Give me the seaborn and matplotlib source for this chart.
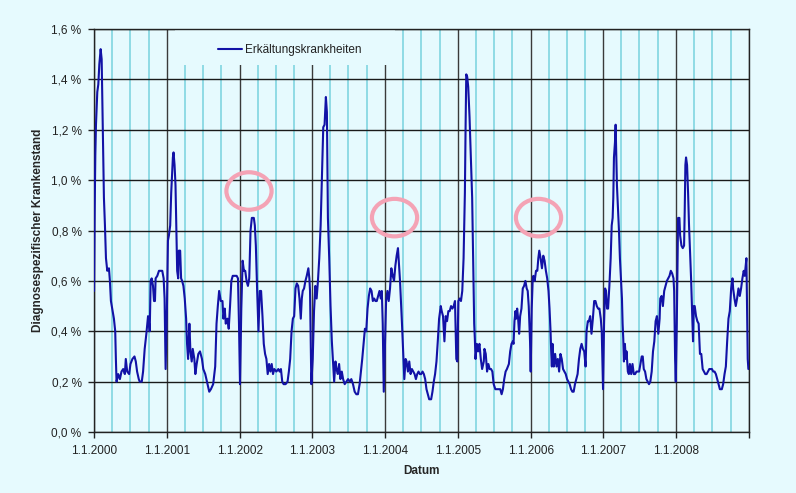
import pandas as pd
import seaborn as sns
import matplotlib.pyplot as plt
import matplotlib.dates as mdates
from matplotlib.patches import Ellipse, Rectangle
from matplotlib.ticker import FuncFormatter, MultipleLocator

# (Dezimaljahr, Krankenstand in %) je Saison
s2000 = [(2000.000, 0.56), (2000.009, 0.88), (2000.018, 1.10), (2000.027, 1.22), (2000.045, 1.35),
         (2000.059, 1.38), (2000.073, 1.46), (2000.091, 1.52), (2000.105, 1.48), (2000.118, 1.25),
         (2000.127, 1.09), (2000.136, 0.93), (2000.150, 0.82), (2000.164, 0.69), (2000.182, 0.64),
         (2000.205, 0.65), (2000.218, 0.60), (2000.232, 0.52), (2000.255, 0.48), (2000.273, 0.45),
         (2000.291, 0.40), (2000.300, 0.29), (2000.309, 0.20), (2000.332, 0.23), (2000.355, 0.21),
         (2000.377, 0.24), (2000.400, 0.25), (2000.423, 0.23), (2000.436, 0.29), (2000.455, 0.24),
         (2000.482, 0.23), (2000.500, 0.27), (2000.527, 0.29), (2000.555, 0.30), (2000.573, 0.28),
         (2000.591, 0.24), (2000.614, 0.21), (2000.627, 0.20), (2000.655, 0.20), (2000.673, 0.24),
         (2000.695, 0.33), (2000.718, 0.39), (2000.741, 0.46), (2000.755, 0.43), (2000.764, 0.40),
         (2000.777, 0.60), (2000.791, 0.61), (2000.809, 0.58), (2000.823, 0.52), (2000.836, 0.52),
         (2000.845, 0.61), (2000.868, 0.62), (2000.891, 0.64), (2000.914, 0.64), (2000.936, 0.64),
         (2000.955, 0.61), (2000.968, 0.53), (2000.982, 0.25)]
s2001 = [(2001.000, 0.49), (2001.014, 0.76), (2001.027, 0.78), (2001.045, 0.82), (2001.059, 0.95),
         (2001.082, 1.09), (2001.091, 1.11), (2001.105, 1.06), (2001.118, 0.98), (2001.127, 0.85),
         (2001.141, 0.64), (2001.155, 0.61), (2001.164, 0.72), (2001.182, 0.72), (2001.195, 0.61),
         (2001.209, 0.60), (2001.227, 0.58), (2001.245, 0.53), (2001.264, 0.45), (2001.277, 0.35),
         (2001.291, 0.29), (2001.309, 0.43), (2001.323, 0.32), (2001.341, 0.28), (2001.355, 0.33),
         (2001.377, 0.29), (2001.391, 0.23), (2001.409, 0.27), (2001.432, 0.31), (2001.455, 0.32),
         (2001.482, 0.29), (2001.500, 0.25), (2001.527, 0.23), (2001.559, 0.19), (2001.582, 0.16),
         (2001.605, 0.17), (2001.636, 0.19), (2001.664, 0.26), (2001.682, 0.43), (2001.700, 0.50),
         (2001.718, 0.56), (2001.741, 0.52), (2001.764, 0.52), (2001.777, 0.45), (2001.795, 0.49),
         (2001.809, 0.43), (2001.832, 0.45), (2001.850, 0.41), (2001.868, 0.50), (2001.886, 0.60),
         (2001.905, 0.62), (2001.932, 0.62), (2001.959, 0.62), (2001.977, 0.61), (2001.991, 0.43)]
s2002 = [(2002.005, 0.19), (2002.023, 0.49), (2002.041, 0.68), (2002.059, 0.64), (2002.077, 0.64),
         (2002.095, 0.60), (2002.114, 0.58), (2002.132, 0.61), (2002.150, 0.80), (2002.168, 0.85),
         (2002.195, 0.85), (2002.209, 0.82), (2002.223, 0.74), (2002.241, 0.56), (2002.259, 0.40),
         (2002.277, 0.56), (2002.295, 0.56), (2002.314, 0.46), (2002.332, 0.35), (2002.350, 0.31),
         (2002.368, 0.29), (2002.386, 0.23), (2002.405, 0.27), (2002.423, 0.24), (2002.441, 0.27),
         (2002.459, 0.23), (2002.477, 0.25), (2002.505, 0.24), (2002.532, 0.25), (2002.550, 0.24),
         (2002.568, 0.25), (2002.586, 0.20), (2002.605, 0.19), (2002.632, 0.19), (2002.659, 0.20),
         (2002.677, 0.24), (2002.695, 0.29), (2002.714, 0.40), (2002.732, 0.45), (2002.750, 0.46),
         (2002.768, 0.57), (2002.786, 0.59), (2002.805, 0.58), (2002.823, 0.53), (2002.841, 0.45),
         (2002.855, 0.53), (2002.868, 0.56), (2002.886, 0.57), (2002.905, 0.60), (2002.923, 0.62),
         (2002.945, 0.65), (2002.959, 0.61), (2002.968, 0.56), (2002.986, 0.19)]
s2003 = [(2003.005, 0.29), (2003.023, 0.48), (2003.041, 0.58), (2003.059, 0.53), (2003.077, 0.60),
         (2003.095, 0.69), (2003.114, 0.82), (2003.132, 1.02), (2003.150, 1.21), (2003.168, 1.22),
         (2003.186, 1.33), (2003.200, 1.27), (2003.214, 0.85), (2003.232, 0.69), (2003.250, 0.50),
         (2003.268, 0.36), (2003.286, 0.27), (2003.300, 0.20), (2003.318, 0.28), (2003.332, 0.25),
         (2003.350, 0.23), (2003.368, 0.27), (2003.386, 0.21), (2003.405, 0.24), (2003.423, 0.21),
         (2003.445, 0.19), (2003.468, 0.20), (2003.491, 0.21), (2003.514, 0.20), (2003.536, 0.21),
         (2003.559, 0.19), (2003.582, 0.16), (2003.605, 0.15), (2003.627, 0.15), (2003.650, 0.19),
         (2003.668, 0.24), (2003.686, 0.29), (2003.705, 0.35), (2003.723, 0.41), (2003.741, 0.40),
         (2003.759, 0.49), (2003.777, 0.54), (2003.795, 0.57), (2003.814, 0.56), (2003.832, 0.52),
         (2003.850, 0.53), (2003.868, 0.52), (2003.886, 0.52), (2003.905, 0.54), (2003.923, 0.56),
         (2003.941, 0.53), (2003.955, 0.56), (2003.968, 0.43), (2003.982, 0.16)]
s2004 = [(2004.000, 0.36), (2004.014, 0.52), (2004.032, 0.56), (2004.050, 0.52), (2004.068, 0.57),
         (2004.086, 0.65), (2004.105, 0.62), (2004.123, 0.60), (2004.141, 0.66), (2004.159, 0.70),
         (2004.177, 0.73), (2004.186, 0.69), (2004.205, 0.60), (2004.218, 0.52), (2004.232, 0.43),
         (2004.250, 0.31), (2004.264, 0.21), (2004.282, 0.29), (2004.295, 0.28), (2004.314, 0.24),
         (2004.332, 0.28), (2004.350, 0.23), (2004.368, 0.25), (2004.386, 0.24), (2004.405, 0.23),
         (2004.423, 0.21), (2004.441, 0.23), (2004.459, 0.24), (2004.477, 0.23), (2004.495, 0.23),
         (2004.514, 0.24), (2004.532, 0.23), (2004.550, 0.21), (2004.568, 0.17), (2004.586, 0.15),
         (2004.605, 0.13), (2004.632, 0.13), (2004.650, 0.16), (2004.668, 0.20), (2004.686, 0.23),
         (2004.705, 0.28), (2004.723, 0.36), (2004.741, 0.45), (2004.764, 0.50), (2004.777, 0.48),
         (2004.795, 0.46), (2004.814, 0.36), (2004.832, 0.46), (2004.850, 0.44), (2004.868, 0.48),
         (2004.886, 0.48), (2004.905, 0.50), (2004.923, 0.49), (2004.941, 0.50), (2004.959, 0.52),
         (2004.977, 0.29), (2004.991, 0.28)]
s2005 = [(2005.005, 0.52), (2005.023, 0.53), (2005.041, 0.52), (2005.059, 0.56), (2005.077, 0.69),
         (2005.095, 0.95), (2005.105, 1.22), (2005.114, 1.42), (2005.127, 1.41), (2005.141, 1.37),
         (2005.159, 1.25), (2005.177, 1.09), (2005.195, 0.93), (2005.209, 0.69), (2005.223, 0.43),
         (2005.232, 0.37), (2005.241, 0.29), (2005.259, 0.35), (2005.277, 0.32), (2005.295, 0.35),
         (2005.314, 0.29), (2005.332, 0.25), (2005.355, 0.28), (2005.364, 0.33), (2005.382, 0.31),
         (2005.400, 0.24), (2005.418, 0.27), (2005.436, 0.25), (2005.455, 0.25), (2005.473, 0.24),
         (2005.491, 0.19), (2005.514, 0.17), (2005.536, 0.17), (2005.559, 0.17), (2005.582, 0.17),
         (2005.600, 0.15), (2005.618, 0.17), (2005.636, 0.21), (2005.655, 0.24), (2005.673, 0.25),
         (2005.700, 0.27), (2005.718, 0.32), (2005.736, 0.35), (2005.755, 0.36), (2005.764, 0.35),
         (2005.777, 0.44), (2005.791, 0.48), (2005.800, 0.45), (2005.814, 0.49), (2005.827, 0.45),
         (2005.841, 0.39), (2005.855, 0.46), (2005.873, 0.49), (2005.891, 0.57), (2005.909, 0.58),
         (2005.927, 0.60), (2005.945, 0.57), (2005.959, 0.56), (2005.973, 0.50), (2005.982, 0.43),
         (2005.991, 0.36), (2006.000, 0.24)]
s2006 = [(2006.014, 0.49), (2006.027, 0.60), (2006.036, 0.62), (2006.055, 0.60), (2006.073, 0.64),
         (2006.091, 0.64), (2006.105, 0.69), (2006.118, 0.72), (2006.136, 0.69), (2006.155, 0.65),
         (2006.173, 0.70), (2006.191, 0.68), (2006.209, 0.64), (2006.227, 0.61), (2006.245, 0.56),
         (2006.259, 0.49), (2006.273, 0.40), (2006.282, 0.32), (2006.291, 0.26), (2006.300, 0.35),
         (2006.318, 0.26), (2006.336, 0.31), (2006.355, 0.26), (2006.373, 0.29), (2006.391, 0.24),
         (2006.409, 0.31), (2006.427, 0.29), (2006.445, 0.25), (2006.464, 0.24), (2006.482, 0.23),
         (2006.500, 0.21), (2006.518, 0.20), (2006.536, 0.19), (2006.555, 0.17), (2006.573, 0.16),
         (2006.591, 0.16), (2006.609, 0.19), (2006.627, 0.21), (2006.645, 0.23), (2006.664, 0.29),
         (2006.682, 0.33), (2006.700, 0.35), (2006.718, 0.33), (2006.736, 0.32), (2006.755, 0.26),
         (2006.768, 0.40), (2006.786, 0.44), (2006.800, 0.44), (2006.818, 0.46), (2006.836, 0.39),
         (2006.855, 0.45), (2006.873, 0.52), (2006.891, 0.52), (2006.909, 0.50), (2006.927, 0.49),
         (2006.945, 0.49), (2006.964, 0.45), (2006.977, 0.40), (2006.986, 0.29), (2006.995, 0.17)]
s2007 = [(2007.009, 0.43), (2007.023, 0.57), (2007.036, 0.56), (2007.050, 0.49), (2007.064, 0.49),
         (2007.082, 0.58), (2007.100, 0.69), (2007.114, 0.82), (2007.127, 0.85), (2007.136, 0.93),
         (2007.145, 1.09), (2007.159, 1.15), (2007.168, 1.22), (2007.177, 1.09), (2007.186, 0.98),
         (2007.200, 0.89), (2007.214, 0.80), (2007.227, 0.69), (2007.241, 0.61), (2007.255, 0.53),
         (2007.264, 0.43), (2007.273, 0.37), (2007.282, 0.28), (2007.295, 0.35), (2007.309, 0.29),
         (2007.318, 0.32), (2007.336, 0.24), (2007.350, 0.23), (2007.364, 0.27), (2007.382, 0.23),
         (2007.400, 0.27), (2007.418, 0.23), (2007.436, 0.23), (2007.455, 0.24), (2007.473, 0.24),
         (2007.491, 0.24), (2007.509, 0.27), (2007.527, 0.30), (2007.541, 0.30), (2007.555, 0.25),
         (2007.573, 0.24), (2007.591, 0.21), (2007.609, 0.20), (2007.627, 0.19), (2007.645, 0.20),
         (2007.664, 0.24), (2007.682, 0.32), (2007.700, 0.36), (2007.718, 0.44), (2007.736, 0.46),
         (2007.755, 0.39), (2007.773, 0.45), (2007.782, 0.53), (2007.800, 0.54), (2007.818, 0.50),
         (2007.836, 0.56), (2007.855, 0.58), (2007.873, 0.60), (2007.891, 0.61), (2007.909, 0.62),
         (2007.927, 0.64), (2007.945, 0.63), (2007.964, 0.61), (2007.973, 0.56), (2007.986, 0.29),
         (2007.995, 0.20)]
s2008 = [(2008.009, 0.43), (2008.027, 0.85), (2008.045, 0.85), (2008.055, 0.78), (2008.073, 0.74),
         (2008.091, 0.73), (2008.109, 0.74), (2008.118, 0.88), (2008.127, 1.06), (2008.136, 1.09),
         (2008.150, 1.06), (2008.164, 0.95), (2008.177, 0.82), (2008.191, 0.72), (2008.205, 0.61),
         (2008.218, 0.49), (2008.232, 0.36), (2008.241, 0.50), (2008.255, 0.50), (2008.273, 0.46),
         (2008.291, 0.44), (2008.309, 0.43), (2008.327, 0.31), (2008.345, 0.31), (2008.364, 0.25),
         (2008.382, 0.24), (2008.400, 0.23), (2008.418, 0.23), (2008.436, 0.24), (2008.455, 0.25),
         (2008.473, 0.25), (2008.491, 0.25), (2008.509, 0.24), (2008.527, 0.24), (2008.545, 0.23),
         (2008.564, 0.21), (2008.582, 0.19), (2008.600, 0.17), (2008.627, 0.17), (2008.645, 0.19),
         (2008.664, 0.23), (2008.682, 0.26), (2008.700, 0.36), (2008.718, 0.45), (2008.736, 0.48),
         (2008.755, 0.57), (2008.773, 0.61), (2008.782, 0.57), (2008.800, 0.53), (2008.818, 0.50),
         (2008.836, 0.53), (2008.855, 0.57), (2008.873, 0.54), (2008.891, 0.57), (2008.909, 0.61),
         (2008.927, 0.64), (2008.941, 0.62), (2008.955, 0.66), (2008.964, 0.69), (2008.973, 0.49),
         (2008.982, 0.29), (2008.991, 0.25)]

series_name = "Erkältungskrankheiten"
bg = "#E6FAFE"
line_col = "#1212A6"
pink = "#F4A3B5"


def to_date(t):
    y = int(t)
    start = pd.Timestamp(year=y, month=1, day=1)
    end = pd.Timestamp(year=y + 1, month=1, day=1)
    return start + (t - y) * (end - start)


pairs = s2000 + s2001 + s2002 + s2003 + s2004 + s2005 + s2006 + s2007 + s2008
df = pd.DataFrame(pairs, columns=["t", "wert"])
df["Datum"] = df["t"].apply(to_date)

sns.set_style("white")
plt.rcParams["font.family"] = ["Liberation Sans", "DejaVu Sans"]

fig, ax = plt.subplots(figsize=(7.96, 4.93), dpi=100)
fig.patch.set_facecolor(bg)
ax.set_facecolor(bg)
fig.subplots_adjust(left=0.1181, right=0.9410, bottom=0.1237, top=0.9412)

sns.lineplot(data=df, x="Datum", y="wert", estimator=None, color=line_col,
             linewidth=1.5, label=series_name, ax=ax, zorder=3)

ax.set_xlim(pd.Timestamp("2000-01-01"), pd.Timestamp("2009-01-01"))
ax.set_ylim(0, 1.6)
ax.yaxis.set_major_locator(MultipleLocator(0.2))
ax.yaxis.set_major_formatter(FuncFormatter(lambda v, p: f"{v:.1f} %".replace(".", ",")))
ax.xaxis.set_major_locator(mdates.YearLocator())
ax.xaxis.set_minor_locator(mdates.MonthLocator(bymonth=[4, 7, 10]))
ax.xaxis.set_major_formatter(FuncFormatter(
    lambda v, p: "" if mdates.num2date(v).year > 2008 else f"1.1.{mdates.num2date(v).year}"))

ax.set_axisbelow(True)
ax.grid(which="major", axis="y", color="#1a1a1a", linewidth=1.0)
ax.grid(which="major", axis="x", color="#3a3a3a", linewidth=1.0)
ax.grid(which="minor", axis="x", color="#78D2DE", linewidth=1.1)

for s in ax.spines.values():
    s.set_color("#222222")
    s.set_linewidth(1.0)

ax.tick_params(axis="both", which="major", direction="out", length=4, width=1,
               color="#222222", labelsize=8.5, labelcolor="#222222", left=True, bottom=True)
ax.tick_params(axis="y", pad=5)
ax.tick_params(axis="x", pad=5)
ax.tick_params(which="minor", length=0)

ax.set_xlabel("Datum", fontsize=8.5, fontweight="bold", labelpad=6)
ax.set_ylabel("Diagnosespezifischer Krankenstand", fontsize=8.5, fontweight="bold", labelpad=5)

# Legendenfeld verdeckt das Gitter
ax.add_patch(Rectangle((0.1237, 0.911), 0.336, 0.089, transform=ax.transAxes,
                       facecolor=bg, edgecolor="none", zorder=1))
leg = ax.legend(loc="center", bbox_to_anchor=(0.2985, 0.948), frameon=False,
                fontsize=8.5, handlelength=2.1, handletextpad=0.2)
leg.get_texts()[0].set_color("#222222")

# Markierungen
for cx, cy in [(0.2366, 0.598), (0.4588, 0.532), (0.6786, 0.532)]:
    ax.add_patch(Ellipse((cx, cy), 0.069, 0.093, transform=ax.transAxes,
                         facecolor="none", edgecolor=pink, linewidth=3, zorder=4))

fig.savefig("out.png", dpi=100, facecolor=bg)
